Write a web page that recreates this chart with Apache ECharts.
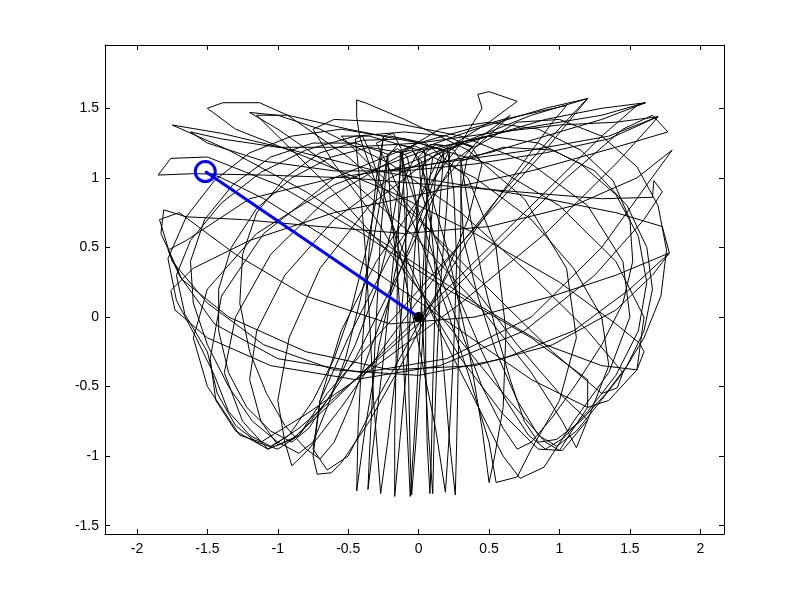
<!DOCTYPE html>
<html><head><meta charset="utf-8">
<script src="https://cdn.jsdelivr.net/npm/echarts@6/dist/echarts.min.js"></script>
<style>html,body{margin:0;padding:0;background:#fff}#c{width:800px;height:600px}</style>
</head><body><div id="c"></div>
<script>
const xTicks = [-2, -1.5, -1, -0.5, 0, 0.5, 1, 1.5, 2];
const yTicks = [-1.5, -1, -0.5, 0, 0.5, 1, 1.5];
const xRange = [-2.227, 2.168];
const yRange = [-1.56, 1.955];
const rodX = [0, -1.515];
const rodY = [0, 1.045];
const pathPoints = [
[0.22,1.18],
[0.2,0.8],[0.16,0.3],[0.13,-0.3],[0.11,-0.85],[0.1,-1.27],[0.07,-0.85],[0.04,-0.3],[0.01,0.3],[-0.02,0.85],[-0.08,1.15],[-0.15,1.21],[-0.22,1.17],
[-0.45,1.25],[-0.75,1.25],[-1.05,1.15],[-1.32,0.95],[-1.52,0.7],[-1.62,0.4],[-1.6,0.1],[-1.5,-0.2],[-1.35,-0.5],[-1.18,-0.75],[-1.0,-0.9],[-0.85,-0.98],[-0.75,-0.9],[-0.65,-0.65],[-0.52,-0.3],[-0.42,0.1],[-0.33,0.5],[-0.27,0.85],[-0.22,1.17],
[-0.2,0.8],[-0.15,0.3],[-0.11,-0.3],[-0.08,-0.85],[-0.06,-1.29],[-0.03,-0.85],[0.0,-0.3],[0.03,0.3],[0.06,0.85],[0.1,1.15],[0.17,1.22],[0.25,1.2],[0.3,1.12],
[0.6,1.22],[0.95,1.2],[1.25,1.05],[1.48,0.8],[1.62,0.5],[1.66,0.2],[1.6,-0.1],[1.48,-0.35],[1.33,-0.55],[1.15,-0.75],[0.98,-0.88],[0.85,-0.9],[0.75,-0.75],[0.65,-0.45],[0.55,-0.1],[0.45,0.3],[0.37,0.7],[0.3,1.12],
[0.3,0.7],[0.29,0.2],[0.28,-0.4],[0.27,-0.9],[0.26,-1.28],[0.22,-0.9],[0.18,-0.4],[0.13,0.2],[0.08,0.75],[0.02,1.12],[-0.05,1.2],[-0.13,1.18],
[0.15,1.35],[0.5,1.4],[0.85,1.35],[1.15,1.2],[1.38,0.98],[1.5,0.7],[1.52,0.4],[1.45,0.1],[1.3,-0.2],[1.12,-0.48],[0.95,-0.72],[0.8,-0.9],[0.7,-0.95],[0.6,-0.8],[0.45,-0.5],[0.3,-0.1],[0.15,0.3],[0.02,0.7],[-0.08,1.0],[-0.13,1.18],
[-0.14,0.8],[-0.15,0.3],[-0.16,-0.3],[-0.17,-0.85],[-0.17,-1.29],[-0.13,-0.85],[-0.08,-0.3],[-0.04,0.3],[0.0,0.85],[0.05,1.18],[0.12,1.24],[0.2,1.23],
[0.5,1.3],[0.85,1.25],[1.15,1.1],[1.4,0.88],[1.56,0.58],[1.62,0.25],[1.56,-0.1],[1.4,-0.42],[1.2,-0.68],[1.03,-0.87],[0.9,-0.95],[0.78,-0.85],[0.62,-0.6],[0.45,-0.25],[0.28,0.15],[0.12,0.55],[0.02,0.9],[0.0,1.15],[0.08,1.24],[0.2,1.23],
[0.25,0.9],[0.27,0.4],[0.25,-0.2],[0.22,-0.8],[0.19,-1.26],[0.12,-0.8],[0.0,-0.2],[-0.12,0.4],[-0.25,0.9],[-0.35,1.2],[-0.4,1.3],[-0.45,1.28],
[-0.42,1.0],[-0.38,0.5],[-0.35,0.0],[-0.32,-0.6],[-0.29,-1.0],[-0.27,-1.27],[-0.22,-0.9],[-0.15,-0.3],[-0.1,0.3],[-0.08,0.9],[-0.12,1.2],[-0.18,1.32],[-0.25,1.3],
[-0.55,1.35],[-0.9,1.3],[-1.2,1.18],[-1.45,0.98],[-1.65,0.72],[-1.78,0.42],[-1.72,0.12],[-1.58,-0.15],[-1.45,-0.42],[-1.35,-0.68],[-1.2,-0.85],[-1.05,-0.93],[-0.92,-0.85],[-0.75,-0.6],[-0.6,-0.3],[-0.48,0.05],[-0.38,0.45],[-0.3,0.85],[-0.25,1.3],
[-0.3,1.0],[-0.35,0.5],[-0.4,-0.2],[-0.43,-0.8],[-0.44,-1.25],[-0.38,-0.8],[-0.28,-0.2],[-0.15,0.4],[0.0,0.85],[0.15,1.15],[0.3,1.25],[0.38,1.22],
[0.2,1.3],[-0.1,1.33],[-0.45,1.3],[-0.8,1.2],[-1.12,1.04],[-1.4,0.82],[-1.62,0.55],[-1.72,0.3],[-1.66,0.02],[-1.5,-0.25],[-1.43,-0.55],[-1.3,-0.78],[-1.15,-0.9],[-1.0,-0.95],[-0.85,-0.85],[-0.65,-0.6],[-0.45,-0.3],[-0.25,0.1],[-0.05,0.5],[0.1,0.85],[0.25,1.12],[0.38,1.22],
[0.45,1.1],[0.35,0.7],[0.15,0.2],[-0.1,-0.3],[-0.35,-0.75],[-0.55,-1.05],[-0.62,-1.12],[-0.72,-1.13],[-0.75,-1.0],[-0.7,-0.6],[-0.55,-0.1],[-0.3,0.4],[0.0,0.85],[0.3,1.25],[0.45,1.5],[0.42,1.6],[0.5,1.62],
[0.7,1.55],[0.5,1.4],[0.1,1.15],[-0.35,0.8],[-0.7,0.35],[-0.92,-0.15],[-1.0,-0.6],[-0.95,-0.9],[-0.9,-1.07],[-0.78,-0.95],[-0.55,-0.65],[-0.2,-0.15],[0.2,0.4],[0.6,0.9],[0.95,1.3],[1.15,1.52],[1.2,1.57],
[0.8,1.45],[0.3,1.25],[-0.2,1.0],[-0.6,0.7],[-0.95,0.3],[-1.15,-0.1],[-1.2,-0.45],[-1.12,-0.75],[-1.0,-0.92],[-0.85,-0.85],[-0.65,-0.55],[-0.35,-0.2],[0.05,0.25],[0.5,0.75],[0.9,1.2],[1.2,1.57],
[0.9,1.5],[0.4,1.35],[-0.15,1.15],[-0.65,0.85],[-1.05,0.45],[-1.3,0.0],[-1.38,-0.4],[-1.25,-0.75],[-1.07,-0.95],[-0.9,-0.88],[-0.6,-0.6],[-0.15,-0.15],[0.35,0.35],[0.85,0.85],[1.3,1.3],[1.55,1.52],[1.61,1.54],
[1.3,1.5],[0.9,1.42],[0.5,1.3],[0.1,1.18],[-0.2,1.05],[0.1,1.1],[0.5,1.18],[0.9,1.3],[1.3,1.42],[1.61,1.54],
[1.3,1.45],[0.7,1.35],[0.05,1.2],[-0.6,0.95],[-1.15,0.6],[-1.5,0.2],[-1.6,-0.15],[-1.5,-0.5],[-1.27,-0.85],[-1.12,-0.9],[-0.8,-0.7],[-0.3,-0.35],[0.3,0.1],[0.9,0.6],[1.4,1.1],[1.65,1.38],[1.7,1.44],
[1.4,1.4],[1.0,1.38],[0.5,1.32],[0.0,1.25],[-0.5,1.22],[-1.0,1.22],[-1.4,1.28],[-1.62,1.33],[-1.5,1.25],[-1.1,1.12],[-0.6,1.05],[-0.1,1.05],[0.4,1.1],[0.9,1.18],[1.35,1.28],[1.7,1.44],
[1.35,1.3],[0.8,1.2],[0.1,1.1],[-0.6,1.0],[-1.2,0.85],[-1.65,0.55],[-1.78,0.48],[-1.7,0.3],[-1.45,-0.05],[-1.0,-0.3],[-0.4,-0.4],[0.2,-0.3],[0.8,0.0],[1.3,0.5],[1.62,0.95],[1.8,1.2],
[1.55,1.0],[1.1,0.8],[0.5,0.65],[-0.1,0.6],[-0.7,0.65],[-1.25,0.7],[-1.65,0.72],[-1.81,0.77],[-1.83,0.6],[-1.68,0.27],[-1.35,0.0],[-0.8,-0.25],[-0.2,-0.38],[0.4,-0.35],[0.95,-0.2],[1.4,0.05],[1.66,0.3],[1.78,0.46],
[1.5,0.2],[1.1,-0.1],[0.6,-0.3],[0.0,-0.42],[-0.6,-0.38],[-1.1,-0.2],[-1.5,0.1],[-1.75,0.4],[-1.84,0.7],[-1.7,0.75],[-1.3,0.45],[-0.8,0.15],[-0.2,-0.05],[0.4,0.0],[0.95,0.15],[1.4,0.3],[1.78,0.46],
[1.73,0.65],[1.4,0.75],[0.9,0.85],[0.3,0.95],[-0.3,1.05],[-0.9,1.2],[-1.4,1.32],[-1.75,1.38],[-1.35,1.2],[-0.8,0.9],[-0.2,0.5],[0.4,0.1],[0.9,-0.2],[1.3,-0.35],[1.55,-0.38],[1.6,-0.25],[1.57,-0.19],
[1.4,-0.05],[1.0,0.25],[0.4,0.6],[-0.2,0.9],[-0.8,1.15],[-1.3,1.35],[-1.5,1.5],[-1.39,1.54],[-1.13,1.54],[-0.93,1.45],[-0.5,1.15],[0.0,0.7],[0.5,0.2],[0.95,-0.25],[1.3,-0.55],[1.41,-0.51],[1.45,-0.4],
[1.2,-0.1],[0.8,0.3],[0.3,0.75],[-0.2,1.1],[-0.7,1.35],[-1.0,1.45],[-1.2,1.47],[-1.0,1.35],[-0.5,1.0],[0.0,0.55],[0.45,0.05],[0.8,-0.4],[1.02,-0.75],[1.12,-0.94],[1.2,-0.74],
[1.0,-0.55],[0.7,-0.2],[0.4,0.2],[0.1,0.6],[-0.2,0.95],[-0.45,1.2],[-0.55,1.3],[-0.35,1.3],[0.0,1.2],[0.4,1.0],[0.8,0.7],[1.1,0.35],[1.3,0.0],[1.35,-0.35],[1.2,-0.74],
[1.02,-0.96],[0.85,-0.95],[0.6,-0.7],[0.3,-0.3],[0.0,0.2],[-0.3,0.7],[-0.6,1.1],[-0.75,1.35],[-0.6,1.42],[-0.2,1.4],[0.3,1.3],[0.8,1.1],[1.2,0.8],[1.45,0.4],[1.5,0.0],[1.35,-0.4],[1.1,-0.75],[0.89,-1.08],
[0.72,-1.16],[0.6,-1.0],[0.4,-0.6],[0.15,-0.1],[-0.1,0.45],[-0.3,0.95],[-0.42,1.3],[-0.44,1.44],[-0.44,1.56],[-0.38,1.54],[-0.1,1.42],[0.35,1.2],[0.75,0.85],[1.05,0.35],[1.12,-0.15],[1.0,-0.6],[0.8,-0.95],[0.7,-1.15],
[0.55,-1.19],[0.5,-0.9],[0.35,-0.4],[0.15,0.2],[-0.05,0.7],[-0.2,1.05],[-0.3,1.25],[-0.2,1.3],[0.05,1.25],[0.35,1.0],[0.55,0.5],[0.62,-0.1],[0.6,-0.65],[0.54,-1.0],[0.5,-1.19],
[0.45,-0.8],[0.35,-0.2],[0.2,0.5],[0.05,1.0],[-0.05,1.22],[-0.15,1.24],[-0.22,1.15],[-0.27,0.6],[-0.3,0.0],[-0.33,-0.6],[-0.35,-1.0],[-0.36,-1.24],[-0.32,-0.9],[-0.25,-0.3],[-0.18,0.4],[-0.1,1.0],[0.0,1.2],[0.1,1.22],[0.18,1.2],
[-0.1,1.28],[-0.4,1.27],[-0.7,1.18],[-0.95,1.0],[-1.15,0.75],[-1.25,0.45],[-1.27,0.1],[-1.2,-0.25],[-1.08,-0.55],[-0.95,-0.78],[-0.8,-0.95],[-0.7,-1.02],[-0.6,-0.9],[-0.48,-0.62],[-0.35,-0.25],[-0.2,0.15],[-0.05,0.55],[0.08,0.9],[0.18,1.2],
[0.15,0.8],[0.12,0.2],[0.1,-0.5],[0.09,-1.0],[0.08,-1.27],[0.06,-0.9],[0.05,-0.3],[0.05,0.4],[0.06,1.0],[0.04,1.2],[-0.03,1.23],[-0.12,1.18],
[-0.35,1.22],[-0.62,1.15],[-0.9,1.0],[-1.15,0.78],[-1.33,0.5],[-1.42,0.2],[-1.42,-0.1],[-1.35,-0.4],[-1.22,-0.65],[-1.05,-0.82],[-0.9,-0.9],[-0.78,-0.8],[-0.62,-0.55],[-0.45,-0.2],[-0.3,0.2],[-0.2,0.6],[-0.14,0.95],[-0.12,1.18],
[-0.1,0.8],[-0.08,0.2],[-0.07,-0.5],[-0.06,-1.0],[-0.05,-1.28],[-0.02,-0.9],[0.02,-0.3],[0.06,0.4],[0.12,1.0],[0.22,1.2],[0.32,1.25],[0.4,1.22],
[0.7,1.4],[1.0,1.42],[1.3,1.3],[1.55,1.08],[1.7,0.8],[1.76,0.48],[1.72,0.15],[1.6,-0.15],[1.45,-0.4],[1.28,-0.62],[1.12,-0.82],[0.98,-0.93],[0.85,-0.85],[0.7,-0.6],[0.55,-0.25],[0.42,0.15],[0.32,0.55],[0.3,0.9],[0.34,1.12],[0.4,1.22],
[0.55,1.35],[0.65,1.45],[0.45,1.3],[0.15,0.95],[-0.2,0.45],[-0.5,-0.15],[-0.7,-0.6],[-0.75,-0.95],[-0.65,-1.1],[-0.5,-1.0],[-0.3,-0.6],[0.0,-0.05],[0.35,0.55],[0.7,1.05],[0.95,1.4],[1.05,1.52],
[0.6,1.42],[0.0,1.25],[-0.6,1.0],[-1.1,0.6],[-1.4,0.15],[-1.48,-0.3],[-1.44,-0.6],[-1.3,-0.82],[-1.07,-0.95],[-0.85,-0.8],[-0.45,-0.45],[0.05,0.0],[0.55,0.5],[1.05,1.0],[1.45,1.35],[1.66,1.45],
[1.77,1.33],[1.4,1.22],[0.8,1.05],[0.1,0.9],[-0.6,0.75],[-1.2,0.55],[-1.6,0.35],[-1.76,0.19],[-1.73,0.05],[-1.5,-0.15],[-1.05,-0.35],[-0.45,-0.45],[0.15,-0.35],[0.75,-0.1],[1.25,0.3],[1.6,0.7],[1.73,0.9],[1.67,0.98],
[1.66,0.86],[1.3,0.85],[0.7,0.9],[0.1,0.95],[-0.5,1.0],[-1.1,1.02],[-1.6,1.03],[-1.85,1.02],[-1.76,1.14],[-1.5,1.15],[-1.0,0.95],[-0.4,0.6],[0.2,0.2],[0.8,-0.15],[1.2,-0.45],[1.2,-0.65],[1.1,-0.8],
[1.0,-0.96],[0.9,-0.9],[0.6,-0.55],[0.2,-0.05],[-0.2,0.45],[-0.6,0.9],[-0.95,1.25],[-1.15,1.45],[-0.93,1.45],[-0.5,1.35],[0.0,1.25],[0.5,1.1],[1.0,0.8],[1.4,0.4],[1.6,0.0],[1.55,-0.38],[1.35,-0.6],
[1.2,-0.65],[0.8,-0.45],[0.3,-0.1],[-0.2,0.25],[-0.7,0.6],[-1.1,0.85],[-1.4,1.0],[-1.515,1.045]
];

const chart = echarts.init(document.getElementById('c'), null, {renderer: 'canvas'});
const font = {fontFamily: 'Liberation Sans, Arial, Helvetica, sans-serif', fontSize: 14, color: '#000'};
function xAx(pos, showLabel) {
  return {
    type: 'value', position: pos, min: xRange[0], max: xRange[1],
    axisLine: {show: true, onZero: false, lineStyle: {color: '#000', width: 1}},
    axisTick: {show: true, inside: true, length: 5, customValues: xTicks, lineStyle: {color: '#000'}},
    axisLabel: Object.assign({show: showLabel, margin: 8, customValues: xTicks}, font),
    splitLine: {show: false}
  };
}
function yAx(pos, showLabel) {
  return {
    type: 'value', position: pos, min: yRange[0], max: yRange[1],
    axisLine: {show: true, onZero: false, lineStyle: {color: '#000', width: 1}},
    axisTick: {show: true, inside: true, length: 5, customValues: yTicks, lineStyle: {color: '#000'}},
    axisLabel: Object.assign({show: showLabel, margin: 6, customValues: yTicks}, font),
    splitLine: {show: false}
  };
}
chart.setOption({
  animation: false,
  backgroundColor: '#fff',
  grid: {left: 105, right: 76, top: 45, bottom: 66, containLabel: false},
  xAxis: [xAx('bottom', true), xAx('top', false)],
  yAxis: [yAx('left', true), yAx('right', false)],
  series: [
    {type: 'line', data: pathPoints, showSymbol: false, symbol: 'none', smooth: false,
     lineStyle: {color: '#000', width: 1}, silent: true, z: 2},
    {type: 'line', data: rodX.map((x, i) => [x, rodY[i]]), showSymbol: false, symbol: 'none',
     lineStyle: {color: '#0000ff', width: 3}, silent: true, z: 3},
    {type: 'scatter', data: [[rodX[1], rodY[1]]], symbol: 'circle', symbolSize: 20,
     itemStyle: {color: 'rgba(0,0,0,0)', borderColor: '#0000ff', borderWidth: 3, opacity: 1}, silent: true, z: 4},
    {type: 'scatter', data: [[rodX[0], rodY[0]]], symbol: 'circle', symbolSize: 10,
     itemStyle: {color: '#000', opacity: 1}, silent: true, z: 5}
  ]
});
</script></body></html>
